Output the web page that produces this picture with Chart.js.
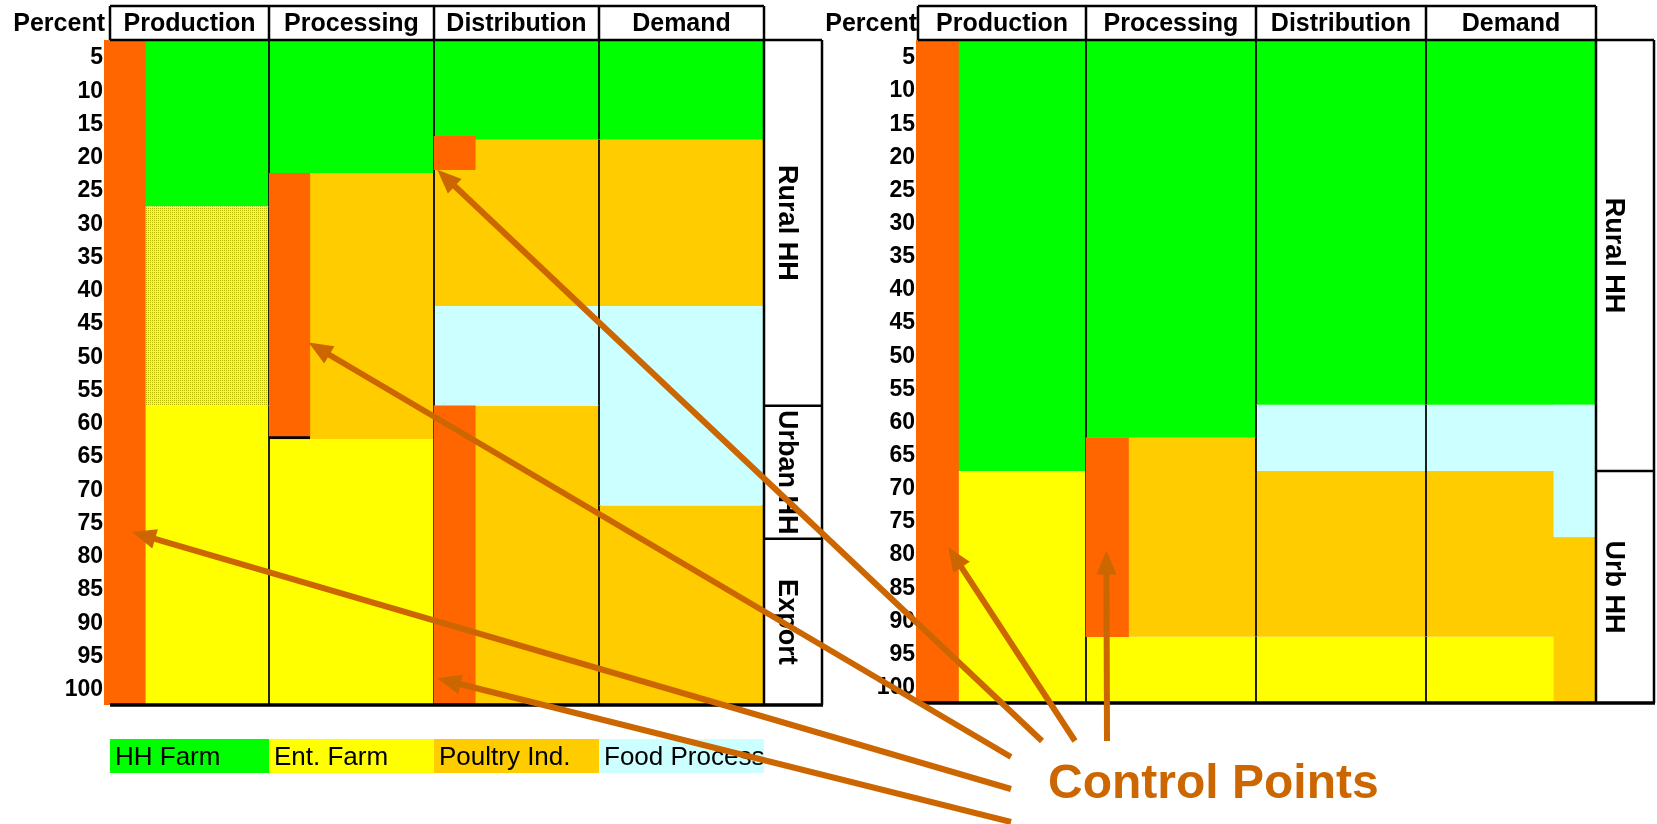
<!DOCTYPE html>
<html>
<head>
<meta charset="utf-8">
<title>Control Points</title>
<script src="https://cdn.jsdelivr.net/npm/chart.js@4.4.1/dist/chart.umd.min.js"></script>
<style>
  html, body { margin: 0; padding: 0; background: #fff; }
  #page { position: relative; width: 1657px; height: 824px; overflow: hidden; }
  canvas { position: absolute; top: 0; }
  #left_graph { left: 0; }
  #right_graph { left: 800px; }
  #notes { left: 0; pointer-events: none; }
</style>
</head>
<body>
<div id="page">
  <canvas id="left_graph" width="830" height="824"></canvas>
  <canvas id="right_graph" width="857" height="824"></canvas>
  <canvas id="notes" width="1657" height="824"></canvas>
</div>
<script>
var stages = ['Production', 'Processing', 'Distribution', 'Demand'];
var sources = ['HH Farm', 'Ent. Farm', 'Poultry Ind.', 'Food Process'];
var percentTicks = ['5', '10', '15', '20', '25', '30', '35', '40', '45', '50',
                    '55', '60', '65', '70', '75', '80', '85', '90', '95', '100'];

// left panel: [from, to] percent for each stage (0 = top)
var leftHHFarm       = [[0, 25], [0, 20], [0, 15], [0, 15]];
var leftEntFarmRural = [[25, 55], null, null, null];
var leftEntFarm      = [[55, 100], [60, 100], null, null];
var leftPoultry      = [null, [20, 60], [15, 40], [15, 40]];
var leftPoultryLow   = [null, null, [55, 100], [70, 100]];
var leftFoodProcess  = [null, null, [40, 55], [40, 70]];
var leftControlStage = [0, 1, 2, 2];
var leftControlRange = [[0, 100], [20, 60], [14.5, 19.5], [55, 100]];
var leftDestLabels = ['Rural HH', 'Urban HH', 'Export'];
var leftDestBounds = [0, 55, 75, 100];

// right panel
var rightHHFarm      = [[0, 65], [0, 60], [0, 55], [0, 55]];
var rightFoodProcess = [null, null, [55, 65], [55, 65]];
var rightPoultry     = [null, [60, 90], [65, 90], [65, 90]];
var rightEntFarm     = [[65, 100], [90, 100], [90, 100], [90, 100]];
// urban strip at the right edge of Demand
var rightUrbanFoodProcess = [55, 75];
var rightUrbanPoultry     = [75, 100];
var rightControlStage = [0, 1];
var rightControlRange = [[0, 100], [60, 90]];
var rightDestLabels = ['Rural HH', 'Urb HH'];
var rightDestBounds = [0, 65, 100];

var GREEN = '#00FF00', YELLOW = '#FFFF00', GOLD = '#FFCC00', CYAN = '#CCFFFF';
var CONTROL = '#FF6600', ARROW = '#CC6600';
var sourceColors = [GREEN, YELLOW, GOLD, CYAN];
var FONT = "'Liberation Sans', Arial, Helvetica, sans-serif";
Chart.defaults.font.family = FONT;

// quarter slots of each stage, used for the narrow control bars
var slotLabels = [];
stages.forEach(function (s) {
    ['a', 'b', 'c', 'd'].forEach(function (q) { slotLabels.push(s + ' ' + q); });
});

function shadedYellow() {
    var c = document.createElement('canvas');
    c.width = 2; c.height = 2;
    var g = c.getContext('2d');
    g.fillStyle = YELLOW;
    g.fillRect(0, 0, 2, 2);
    g.fillStyle = '#B8B800';
    g.fillRect(0, 0, 1, 1);
    return g.createPattern(c, 'repeat');
}

function bandSet(label, ranges, color) {
    return {
        label: label,
        data: ranges,
        backgroundColor: color,
        borderColor: '#000',
        borderWidth: {left: 1.2, right: 1.2, top: 0, bottom: 0},
        borderSkipped: false,
        xAxisID: 'x',
        grouped: false,
        categoryPercentage: 1,
        barPercentage: 1,
        order: 2
    };
}

function slotSet(label, stageIdx, quarter, ranges, color, order, border) {
    return {
        label: label,
        data: ranges.map(function (r, i) {
            return {x: slotLabels[stageIdx[i] * 4 + quarter], y: r};
        }),
        backgroundColor: color,
        borderColor: '#000',
        borderWidth: border || 0,
        borderSkipped: false,
        xAxisID: 'xq',
        grouped: false,
        categoryPercentage: 1,
        barPercentage: 1,
        order: order
    };
}

function panelFrame(destLabels, destBounds, labelShift, inset, withLegend) {
    return {
        id: 'panelFrame',
        afterDraw: function (chart) {
            var ctx = chart.ctx, a = chart.chartArea;
            var x = chart.scales.x, y = chart.scales.y;
            var edges = stages.map(function (s, i) { return x.getPixelForValue(i - 0.5); });
            edges.push(x.getPixelForValue(stages.length - 0.5));
            // header and legend start a little right of the plot edge
            var cells = edges.slice();
            cells[0] += inset;
            var boxRight = a.right + 58;
            var headTop = a.top - 34;

            ctx.save();
            ctx.strokeStyle = '#000';
            ctx.fillStyle = '#000';

            // header cells
            ctx.lineWidth = 2.5;
            ctx.beginPath();
            ctx.moveTo(cells[0], headTop); ctx.lineTo(cells[4], headTop);
            ctx.moveTo(cells[0], a.top); ctx.lineTo(boxRight, a.top);
            cells.forEach(function (e) { ctx.moveTo(e, headTop); ctx.lineTo(e, a.top); });
            ctx.stroke();
            ctx.font = 'bold 25px ' + FONT;
            ctx.textAlign = 'center';
            ctx.textBaseline = 'middle';
            stages.forEach(function (s, i) {
                ctx.fillText(s, (cells[i] + cells[i + 1]) / 2, (headTop + a.top) / 2 + 1);
            });
            ctx.textAlign = 'right';
            ctx.fillText('Percent', a.left + 1, (headTop + a.top) / 2 + 1);

            // destination box
            ctx.lineWidth = 2.5;
            ctx.beginPath();
            ctx.moveTo(a.right, a.top); ctx.lineTo(a.right, a.bottom);
            ctx.moveTo(boxRight, a.top); ctx.lineTo(boxRight, a.bottom);
            destBounds.slice(1, -1).forEach(function (b) {
                var py = y.getPixelForValue(b);
                ctx.moveTo(a.right, py); ctx.lineTo(boxRight, py);
            });
            ctx.stroke();
            ctx.font = 'bold 27px ' + FONT;
            ctx.textAlign = 'center';
            destLabels.forEach(function (lab, i) {
                var cy = (y.getPixelForValue(destBounds[i]) + y.getPixelForValue(destBounds[i + 1])) / 2;
                ctx.save();
                ctx.translate((a.right + boxRight) / 2 + labelShift, cy);
                ctx.rotate(Math.PI / 2);
                ctx.fillText(lab, 0, 0);
                ctx.restore();
            });

            // bottom border
            ctx.lineWidth = 3.5;
            ctx.beginPath();
            ctx.moveTo(cells[0], a.bottom); ctx.lineTo(boxRight + 1, a.bottom);
            ctx.stroke();

            if (withLegend) {
                var ly = a.bottom + 34, lh = 34;
                ctx.font = '26px ' + FONT;
                ctx.textAlign = 'left';
                ctx.textBaseline = 'alphabetic';
                sources.forEach(function (s, i) {
                    var w = cells[i + 1] - cells[i];
                    ctx.fillStyle = sourceColors[i];
                    ctx.fillRect(cells[i], ly, w, lh);
                    ctx.save();
                    ctx.beginPath();
                    ctx.rect(cells[i], ly, w, lh);
                    ctx.clip();
                    ctx.fillStyle = '#000';
                    ctx.fillText(s, cells[i] + 5, ly + 26);
                    ctx.restore();
                });
            }
            ctx.restore();
        }
    };
}

function panelOptions(axisWidth, padding) {
    return {
        responsive: false,
        animation: false,
        layout: {padding: padding},
        plugins: {legend: {display: false}, tooltip: {enabled: false}},
        scales: {
            x: {type: 'category', display: false, offset: true, grid: {offset: true},
                ticks: {autoSkip: false}},
            xq: {type: 'category', labels: slotLabels, display: false, offset: true,
                 ticks: {autoSkip: false}},
            y: {
                type: 'linear',
                min: 0,
                max: 100,
                reverse: true,
                grid: {display: false, drawTicks: false},
                border: {display: false},
                afterBuildTicks: function (scale) {
                    scale.ticks = percentTicks.map(function (t) { return {value: Number(t) - 2.3}; });
                },
                afterFit: function (scale) { scale.width = axisWidth; },
                ticks: {
                    autoSkip: false,
                    padding: 1,
                    color: '#000',
                    font: {size: 23, weight: 'bold'},
                    callback: function (value, index) { return percentTicks[index]; }
                }
            }
        }
    };
}

var leftConfig = {
    type: 'bar',
    data: {
        labels: stages,
        datasets: [
            slotSet('Control Points', leftControlStage, 0, leftControlRange, CONTROL, 0,
                    [0, {top: 0, right: 0, bottom: 3, left: 0}, 0, 0]),
            bandSet('HH Farm', leftHHFarm, GREEN),
            bandSet('Ent. Farm (rural)', leftEntFarmRural, shadedYellow()),
            bandSet('Ent. Farm', leftEntFarm, YELLOW),
            bandSet('Poultry Ind.', leftPoultry, GOLD),
            bandSet('Poultry Ind. (export)', leftPoultryLow, GOLD),
            bandSet('Food Process', leftFoodProcess, CYAN)
        ]
    },
    options: panelOptions(104, {left: 0, top: 40, right: 66, bottom: 119}),
    plugins: [panelFrame(leftDestLabels, leftDestBounds, -7, 6, true)]
};
var leftChart = new Chart(document.getElementById('left_graph').getContext('2d'), leftConfig);

var rightConfig = {
    type: 'bar',
    data: {
        labels: stages,
        datasets: [
            slotSet('Control Points', rightControlStage, 0, rightControlRange, CONTROL, 0),
            slotSet('Food Process (urban)', [3], 3, [rightUrbanFoodProcess], CYAN, 1,
                    {top: 0, right: 1.2, bottom: 0, left: 0}),
            slotSet('Poultry Ind. (urban)', [3], 3, [rightUrbanPoultry], GOLD, 1,
                    {top: 0, right: 1.2, bottom: 0, left: 0}),
            bandSet('HH Farm', rightHHFarm, GREEN),
            bandSet('Food Process', rightFoodProcess, CYAN),
            bandSet('Poultry Ind.', rightPoultry, GOLD),
            bandSet('Ent. Farm', rightEntFarm, YELLOW)
        ]
    },
    options: panelOptions(116, {left: 0, top: 40, right: 61, bottom: 121}),
    plugins: [panelFrame(rightDestLabels, rightDestBounds, -12, 2, false)]
};
var rightChart = new Chart(document.getElementById('right_graph').getContext('2d'), rightConfig);

//============================================
// control point arrows
//============================================
function pagePoint(chart, canvasLeft, pos, pct) {
    return [canvasLeft + chart.scales.x.getPixelForValue(pos - 0.5),
            chart.scales.y.getPixelForValue(pct)];
}

var arrows = [
    {tail: [1011, 789], tip: pagePoint(leftChart, 0, 0.17, 74)},
    {tail: [1011, 757], tip: pagePoint(leftChart, 0, 1.24, 45.5)},
    {tail: [1042, 741], tip: pagePoint(leftChart, 0, 2.02, 19.5)},
    {tail: [1011, 822], tip: pagePoint(leftChart, 0, 2.02, 96)},
    {tail: [1075, 741], tip: pagePoint(rightChart, 800, 0.19, 76.5)},
    {tail: [1107, 741], tip: pagePoint(rightChart, 800, 1.12, 77)}
];

var notes = document.getElementById('notes').getContext('2d');
notes.strokeStyle = ARROW;
notes.fillStyle = ARROW;
notes.lineWidth = 6;
arrows.forEach(function (ar) {
    var dx = ar.tip[0] - ar.tail[0], dy = ar.tip[1] - ar.tail[1];
    var len = Math.sqrt(dx * dx + dy * dy);
    var ux = dx / len, uy = dy / len;
    var headLen = 24, halfW = 10;
    var bx = ar.tip[0] - ux * headLen, by = ar.tip[1] - uy * headLen;
    notes.beginPath();
    notes.moveTo(ar.tail[0], ar.tail[1]);
    notes.lineTo(bx + ux * 2, by + uy * 2);
    notes.stroke();
    notes.beginPath();
    notes.moveTo(ar.tip[0], ar.tip[1]);
    notes.lineTo(bx - uy * halfW, by + ux * halfW);
    notes.lineTo(bx + uy * halfW, by - ux * halfW);
    notes.closePath();
    notes.fill();
});
notes.font = 'bold 48px ' + FONT;
notes.textAlign = 'left';
notes.textBaseline = 'alphabetic';
notes.fillText('Control Points', 1048, 798);
</script>
</body>
</html>
